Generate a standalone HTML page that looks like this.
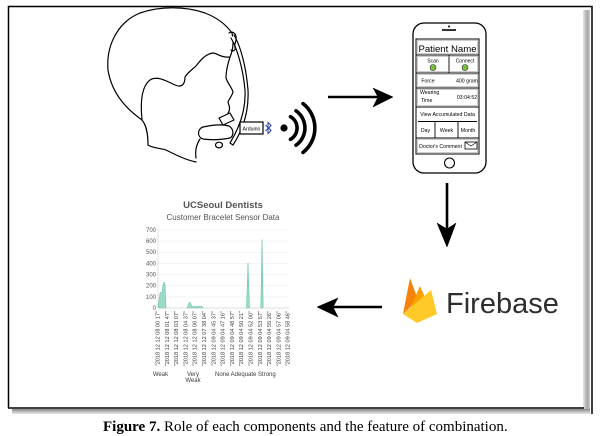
<!DOCTYPE html>
<html><head><meta charset="utf-8">
<style>
html,body{margin:0;padding:0;background:#fff;}
body{width:600px;height:436px;overflow:hidden;position:relative;}
svg{position:absolute;left:0;top:0;}
text{font-family:"Liberation Sans",sans-serif;}
.cap{font-family:"Liberation Serif",serif;}
</style></head>
<body>
<svg width="600" height="436" viewBox="0 0 600 436" xmlns="http://www.w3.org/2000/svg">
<defs>
<linearGradient id="sh" x1="0" x2="1" y1="0" y2="0">
<stop offset="0" stop-color="#e6e6e6"/><stop offset="0.6" stop-color="#a8a8a8"/><stop offset="1" stop-color="#c8c8c8"/>
</linearGradient>
<linearGradient id="shb" x1="0" x2="0" y1="0" y2="1">
<stop offset="0" stop-color="#8a8a8a"/><stop offset="1" stop-color="#e8e8e8"/>
</linearGradient>
</defs>

<!-- frame -->
<rect x="583" y="10" width="7" height="400" fill="url(#sh)"/>
<rect x="12" y="409" width="578" height="5" fill="url(#shb)"/>
<path d="M8.5,408 L8.5,6.5 L592,6.5 L592,414" fill="none" stroke="#000" stroke-width="1.5"/>
<line x1="8" y1="408" x2="584" y2="408" stroke="#000" stroke-width="1.5"/>

<!-- head -->
<g fill="none" stroke="#000" stroke-width="1.2" stroke-linecap="round" stroke-linejoin="round">
<path d="M142,120 C128,110 112,95 108,70 C106,45 118,22 140,13 C160,6 185,6 205,13 C218,18 227,26 232,33"/>
<path d="M142,120 C140,100 142,86 150,80 C158,75 168,82 175,85 C182,88 185,84 185,77 C188,72 193,69 196,66 C200,61 205,54 213,53 C217,53 221,58 230,57"/>
<path d="M232,33 C234,42 233,50 230,57 C228,63 226,72 226,78 C228,84 232,88 233,92 C232,96 229,99 228,102 C229,106 231,109 228,113"/>
<path d="M142,120 C146,125 148,132 148,145 C152,148 160,148 166,150 C176,155 186,160 196,162"/>
<path d="M200,139 C196,145 195,151 196,158"/>
<path d="M203,127 C212,125 222,124 229,126 C234,129 234,136 230,138 C220,140 210,140 203,139 C197,137 197,129 203,127 Z" fill="#fff"/>
<path d="M219,118 L230,113 L234,120 L223,125 Z" fill="#fff"/>
<ellipse cx="219" cy="145" rx="3.5" ry="2.8" fill="#fff"/>
<path d="M234,35 C240,45 246,65 248,90 C249,110 244,128 233,145 L230,143 C241,125 246,108 245,90 C243,68 237,48 231,38" fill="#fff"/>
<path d="M229,33 C232,31 236,33 236,37 C237,41 234,43 235,47 C236,50 233,52 231,50"/>
</g>

<!-- arduino + bluetooth -->
<rect x="240" y="122" width="23" height="12" fill="#fff" stroke="#000" stroke-width="1.2"/>
<text x="251.5" y="130.5" font-size="5.2" text-anchor="middle" fill="#000">Arduino</text>
<path d="M265.5,125 L271,130.5 L268,133.5 L268,122.5 L271,125.5 L265.5,131" fill="none" stroke="#1f3fb0" stroke-width="1"/>
<circle cx="284" cy="128" r="3.6" fill="#000"/>
<g fill="none" stroke="#000" stroke-width="3.6" stroke-linecap="round">
<path d="M290.5,116.7 A13,13 0 0 1 290.5,139.3"/>
<path d="M296,110.8 A21,21 0 0 1 296,145.2"/>
<path d="M303,103.6 A31,31 0 0 1 303,152.4"/>
</g>

<!-- arrows -->
<g fill="#000" stroke="#000">
<line x1="328" y1="97" x2="380" y2="97" stroke-width="2.6"/>
<path d="M393,97 L373,88 L378,97 L373,107 Z" stroke-width="0.5"/>
<line x1="447" y1="183" x2="447" y2="232" stroke-width="2.6"/>
<path d="M447,247 L437,223 L447,229 L456,223 Z" stroke-width="0.5"/>
<line x1="382" y1="307" x2="328" y2="307" stroke-width="2.6"/>
<path d="M317,307 L338,298 L333,307 L338,317 Z" stroke-width="0.5"/>
</g>

<!-- phone -->
<g stroke="#000" fill="none">
<rect x="413" y="23" width="73" height="150" rx="11" stroke-width="1.3" fill="#fff"/>
<circle cx="449" cy="26.5" r="1" fill="#000" stroke="none"/>
<line x1="442" y1="30" x2="456" y2="30" stroke-width="1.6"/>
<rect x="416" y="39" width="63" height="115" stroke-width="1"/>
<g stroke-width="0.9">
<line x1="416" y1="55" x2="479" y2="55"/>
<line x1="416" y1="73" x2="479" y2="73"/>
<line x1="416" y1="88" x2="479" y2="88"/>
<line x1="416" y1="107" x2="479" y2="107"/>
<line x1="418" y1="121.5" x2="477" y2="121.5"/>
<line x1="416" y1="138" x2="479" y2="138"/>
<line x1="449" y1="55" x2="449" y2="73"/>
<line x1="435" y1="122" x2="435" y2="138"/>
<line x1="458" y1="122" x2="458" y2="138"/>
</g>
<g stroke="#999" stroke-width="0.5">
<rect x="417.5" y="40.5" width="60" height="13"/>
<rect x="417.5" y="56.5" width="60" height="15"/>
<rect x="417.5" y="74.5" width="60" height="12"/>
<rect x="417.5" y="89.5" width="60" height="16"/>
<rect x="417.5" y="139.5" width="60" height="13"/>
</g>
<circle cx="449.5" cy="163" r="5" stroke-width="1.1"/>
<circle cx="433" cy="67.5" r="3" fill="#7ac142" stroke="#333" stroke-width="0.6"/>
<circle cx="465" cy="67.5" r="3" fill="#7ac142" stroke="#333" stroke-width="0.6"/>
<rect x="465" y="142" width="12" height="7" stroke-width="0.8"/>
<path d="M465,142 L471,146 L477,142" stroke-width="0.7"/>
</g>
<g fill="#000" text-anchor="middle">
<text x="447.5" y="52" font-size="9.6">Patient Name</text>
<text x="433" y="62.5" font-size="5">Scan</text>
<text x="465" y="62.5" font-size="5">Connect</text>
<text x="428" y="82.5" font-size="5.2">Force</text>
<text x="467" y="82.5" font-size="5.2">400 gram</text>
<text x="420" y="94" font-size="5.2" text-anchor="start">Wearing</text>
<text x="421" y="102" font-size="5.2" text-anchor="start">Time</text>
<text x="467" y="99" font-size="5.2">03:04:52</text>
<text x="447.5" y="116" font-size="5.2">View Accumulated Data</text>
<text x="425.5" y="132" font-size="5.2">Day</text>
<text x="446.5" y="132" font-size="5.2">Week</text>
<text x="468" y="132" font-size="5.2">Month</text>
<text x="440.5" y="148" font-size="5.2">Doctor's Comment</text>
</g>

<!-- firebase -->
<polygon points="403,314 410,278 418,300" fill="#F6820C"/>
<polygon points="411,306 420,286 427,302" fill="#FCA000"/>
<polygon points="403,314 431,290 437,314 417,323" fill="#FFCA28"/>
<text x="446" y="313" font-size="29" fill="#2e2e2e">Firebase</text>

<!-- chart -->
<text x="223" y="208" font-size="9.5" font-weight="bold" fill="#555" text-anchor="middle">UCSeoul Dentists</text>
<text x="223" y="220" font-size="8" fill="#555" text-anchor="middle">Customer Bracelet Sensor Data</text>
<g stroke="#eeeeee" stroke-width="0.6">
<line x1="158" y1="230" x2="289" y2="230"/>
<line x1="158" y1="241.1" x2="289" y2="241.1"/>
<line x1="158" y1="252.3" x2="289" y2="252.3"/>
<line x1="158" y1="263.4" x2="289" y2="263.4"/>
<line x1="158" y1="274.6" x2="289" y2="274.6"/>
<line x1="158" y1="285.7" x2="289" y2="285.7"/>
<line x1="158" y1="296.9" x2="289" y2="296.9"/>
</g>
<line x1="158" y1="229" x2="158" y2="308" stroke="#ccc" stroke-width="0.6"/>
<g font-size="6" fill="#555" text-anchor="end">
<text x="156" y="232">700</text>
<text x="156" y="243">600</text>
<text x="156" y="254">500</text>
<text x="156" y="265.5">400</text>
<text x="156" y="276.5">300</text>
<text x="156" y="287.5">200</text>
<text x="156" y="299">100</text>
<text x="156" y="310">0</text>
</g>
<g fill="#9adbc6" stroke="#5cbf9f" stroke-width="0.5">
<path d="M158,308 L159,300 L160,293 L162,292 L163,285 L164,282 L165,284 L166,308 Z"/>
<path d="M187,308 L189,303 L190,302 L192,306.5 L202,306.5 L203,308 Z"/>
<path d="M246.5,308 L248,263 L249.5,308 Z"/>
<path d="M260.8,308 L262,239.5 L263.2,308 Z"/>
</g>
<line x1="158" y1="308" x2="289" y2="308" stroke="#bbb" stroke-width="0.6"/>
<g font-size="5.6" fill="#3a3a3a" text-anchor="end">
<text transform="translate(159.5,311) rotate(-90)">"2018 12 12 08 00 17"</text>
<text transform="translate(168.8,311) rotate(-90)">"2018 12 12 08 01 47"</text>
<text transform="translate(178.1,311) rotate(-90)">"2018 12 12 08 03 07"</text>
<text transform="translate(187.4,311) rotate(-90)">"2018 12 12 08 04 37"</text>
<text transform="translate(196.7,311) rotate(-90)">"2018 12 12 08 06 07"</text>
<text transform="translate(206,311) rotate(-90)">"2018 12 12 07 38 04"</text>
<text transform="translate(215.3,311) rotate(-90)">"2018 12 09 04 45 37"</text>
<text transform="translate(224.6,311) rotate(-90)">"2018 12 09 04 47 16"</text>
<text transform="translate(233.9,311) rotate(-90)">"2018 12 09 04 48 57"</text>
<text transform="translate(243.2,311) rotate(-90)">"2018 12 09 04 50 21"</text>
<text transform="translate(252.5,311) rotate(-90)">"2018 12 09 04 52 00"</text>
<text transform="translate(261.8,311) rotate(-90)">"2018 12 09 04 53 57"</text>
<text transform="translate(271.1,311) rotate(-90)">"2018 12 09 04 55 26"</text>
<text transform="translate(280.4,311) rotate(-90)">"2018 12 09 04 57 06"</text>
<text transform="translate(289.7,311) rotate(-90)">"2018 12 09 04 58 46"</text>
</g>
<g font-size="6" fill="#3a3a3a">
<text x="160.5" y="376" text-anchor="middle">Weak</text>
<text x="193" y="376" text-anchor="middle">Very</text>
<text x="193" y="382" text-anchor="middle">Weak</text>
<text x="215" y="376">None Adequate Strong</text>
</g>

<!-- caption -->
<text class="cap" x="103" y="431" font-size="15" fill="#000"><tspan font-weight="bold">Figure 7.</tspan> Role of each components and the feature of combination.</text>
</svg>
</body></html>
